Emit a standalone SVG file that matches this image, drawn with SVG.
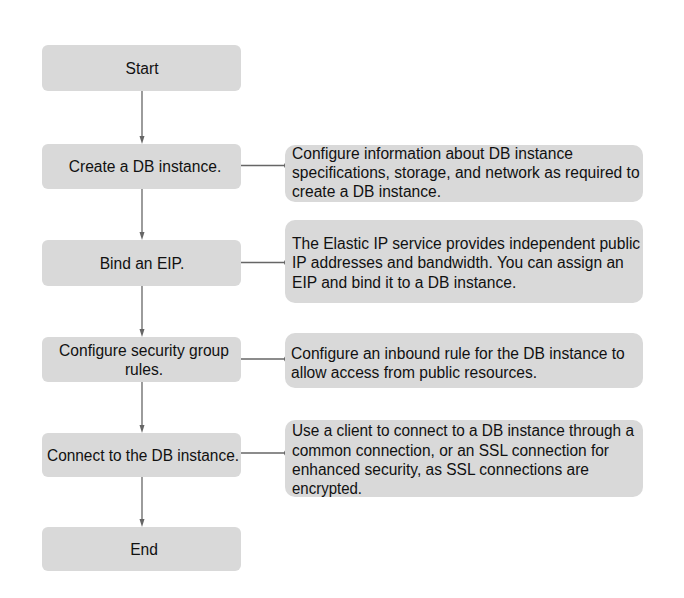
<svg xmlns="http://www.w3.org/2000/svg" width="684" height="598" viewBox="0 0 684 598">
  <defs>
    <style>
      .step { fill: #d9d9d9; }
      .note { fill: #d9d9d9; }
      text { font-family: "Liberation Sans", Arial, sans-serif; font-size: 15.6px; fill: #111; }
      .c { text-anchor: middle; }
      .flow, .link { stroke: #666; stroke-width: 1.3; fill: none; }
      .head { fill: #666; }
    </style>
  </defs>
  <rect width="684" height="598" fill="#fff"/>

  <g id="connectors">
    <line class="flow" x1="142" y1="91" x2="142" y2="138"/>
    <path class="head" d="M139.5,136 L144.5,136 L142,144 Z"/>
    <line class="flow" x1="142" y1="189" x2="142" y2="234"/>
    <path class="head" d="M139.5,232 L144.5,232 L142,240 Z"/>
    <line class="flow" x1="142" y1="286" x2="142" y2="331"/>
    <path class="head" d="M139.5,329 L144.5,329 L142,337 Z"/>
    <line class="flow" x1="142" y1="382" x2="142" y2="427"/>
    <path class="head" d="M139.5,425 L144.5,425 L142,433 Z"/>
    <line class="flow" x1="142" y1="477" x2="142" y2="521"/>
    <path class="head" d="M139.5,519 L144.5,519 L142,527 Z"/>
    <line class="link" x1="241" y1="165.5" x2="287" y2="165.5"/>
    <circle class="head" cx="287" cy="165.5" r="3"/>
    <line class="link" x1="241" y1="262.5" x2="287" y2="262.5"/>
    <circle class="head" cx="287" cy="262.5" r="3"/>
    <line class="link" x1="241" y1="359" x2="287" y2="359"/>
    <circle class="head" cx="287" cy="359" r="3"/>
    <line class="link" x1="241" y1="453" x2="287" y2="453"/>
    <circle class="head" cx="287" cy="453" r="3"/>
  </g>

  <g id="start">
    <rect class="step" x="42" y="45" width="199" height="46" rx="6"/>
    <text class="c" x="142" y="74">Start</text>
  </g>
  <g id="create">
    <rect class="step" x="42" y="144" width="199" height="45" rx="6"/>
    <text class="c" x="145" y="172">Create a DB instance.</text>
  </g>
  <g id="bind">
    <rect class="step" x="42" y="240" width="199" height="46" rx="6"/>
    <text class="c" x="142" y="268.5">Bind an EIP.</text>
  </g>
  <g id="security">
    <rect class="step" x="42" y="337" width="199" height="45" rx="6"/>
    <text class="c" x="144" y="356">Configure security group</text>
    <text class="c" x="144" y="375">rules.</text>
  </g>
  <g id="connect">
    <rect class="step" x="42" y="433" width="199" height="44" rx="6"/>
    <text class="c" x="143" y="460.5" textLength="192" lengthAdjust="spacingAndGlyphs">Connect to the DB instance.</text>
  </g>
  <g id="end">
    <rect class="step" x="42" y="527" width="199" height="44" rx="6"/>
    <text class="c" x="144" y="555">End</text>
  </g>

  <g id="note-create">
    <rect class="note" x="285" y="145" width="358" height="57" rx="10"/>
    <text x="292" y="158.5">Configure information about DB instance</text>
    <text x="292" y="177.5">specifications, storage, and network as required to</text>
    <text x="292" y="196.5">create a DB instance.</text>
  </g>
  <g id="note-bind">
    <rect class="note" x="285" y="220" width="358" height="83" rx="10"/>
    <text x="292" y="248.5">The Elastic IP service provides independent public</text>
    <text x="292" y="267.5">IP addresses and bandwidth. You can assign an</text>
    <text x="292" y="287.5">EIP and bind it to a DB instance.</text>
  </g>
  <g id="note-security">
    <rect class="note" x="285" y="333" width="358" height="55" rx="10"/>
    <text x="291" y="358.5">Configure an inbound rule for the DB instance to</text>
    <text x="291" y="377.5">allow access from public resources.</text>
  </g>
  <g id="note-connect">
    <rect class="note" x="285" y="420" width="358" height="77" rx="10"/>
    <text x="292" y="436" textLength="342" lengthAdjust="spacingAndGlyphs">Use a client to connect to a DB instance through a</text>
    <text x="292" y="455.5" textLength="317" lengthAdjust="spacingAndGlyphs">common connection, or an SSL connection for</text>
    <text x="292" y="474.5" textLength="297" lengthAdjust="spacingAndGlyphs">enhanced security, as SSL connections are</text>
    <text x="292" y="493.5" textLength="70" lengthAdjust="spacingAndGlyphs">encrypted.</text>
  </g>
</svg>
